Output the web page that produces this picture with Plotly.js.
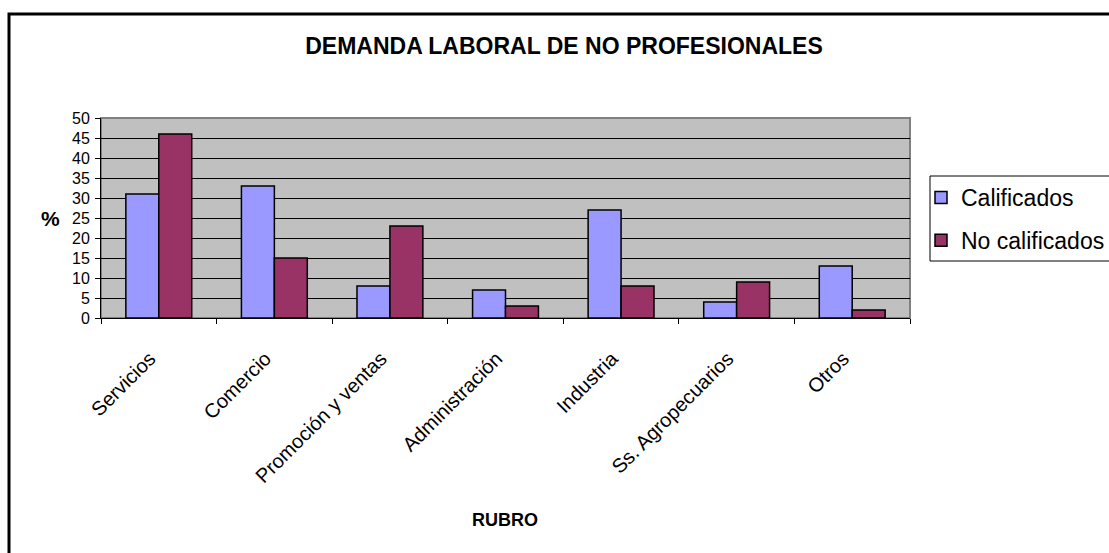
<!DOCTYPE html>
<html>
<head>
<meta charset="utf-8">
<script src="https://cdn.plot.ly/plotly-3.0.1.min.js"></script>
<style>html,body{margin:0;padding:0;background:#fff;}#chart{width:1109px;height:553px;}</style>
</head>
<body>
<div id="chart"></div>
<script>
const categories = ["Servicios", "Comercio", "Promoción y ventas", "Administración", "Industria", "Ss. Agropecuarios", "Otros"];
const calificados = [31, 33, 8, 7, 27, 4, 13];
const noCalificados = [46, 15, 23, 3, 8, 9, 2];
const seriesNames = ["Calificados", "No calificados"];
const yTicks = [0, 5, 10, 15, 20, 25, 30, 35, 40, 45, 50];

const W = 1109, H = 553;
const L = 101, R = 910, T = 118, B = 318;
const px = x => (x - L) / (R - L);
const py = y => (B - y) / (B - T);
const FONT = "Liberation Sans, Arial, sans-serif";

const traces = [
  {type: "bar", name: seriesNames[0], x: categories, y: calificados, legendgroup: "a",
   marker: {color: "#9999FF", line: {color: "#000", width: 1.5}}},
  {type: "bar", name: seriesNames[1], x: categories, y: noCalificados, legendgroup: "b",
   marker: {color: "#993366", line: {color: "#000", width: 1.5}}}
];

const layout = {
  width: W, height: H,
  margin: {l: L, r: W - R, t: T, b: H - B, pad: 0, autoexpand: false},
  paper_bgcolor: "#fff",
  plot_bgcolor: "#C0C0C0",
  barmode: "group",
  bargap: 0.43,
  bargroupgap: 0,
  font: {family: FONT, color: "#000"},
  title: {text: "<b>DEMANDA LABORAL DE NO PROFESIONALES</b>", font: {family: FONT, size: 23, color: "#000"},
          xref: "container", x: 564 / W, xanchor: "center", yref: "container", y: 1 - 46 / H, yanchor: "middle"},
  xaxis: {type: "category", tickangle: -45, tickfont: {family: FONT, size: 20, color: "#000"},
          showline: true, linecolor: "#000", linewidth: 1, ticks: "outside", ticklen: 5, tickcolor: "#000",
          tickson: "boundaries", showgrid: false, zeroline: false, ticklabelstandoff: 20, ticklabelshift: -9,
          automargin: false, fixedrange: true},
  yaxis: {range: [0, 50], tickvals: yTicks, ticks: "outside", ticklen: 5, tickcolor: "#000",
          tickfont: {family: FONT, size: 16, color: "#000"}, showline: true, linecolor: "#000", linewidth: 1,
          showgrid: true, gridcolor: "#000", gridwidth: 1, zeroline: false, ticklabelstandoff: 2,
          automargin: false, fixedrange: true},
  legend: {x: px(921), xanchor: "left", y: py(176), yanchor: "top", bgcolor: "rgba(0,0,0,0)",
           borderwidth: 0, font: {family: FONT, size: 23, color: "#000"},
           traceorder: "grouped", tracegroupgap: 10},
  shapes: [
    {type: "rect", xref: "paper", yref: "paper", x0: 0, x1: 1, y0: 0, y1: 1,
     line: {color: "#808080", width: 2}, layer: "between"},
    {type: "rect", xref: "paper", yref: "paper", x0: px(930), x1: px(1125), y0: py(261), y1: py(176),
     fillcolor: "#fff", line: {color: "#000", width: 1}, layer: "below"},
    {type: "rect", xref: "paper", yref: "paper", x0: px(9), x1: px(1118), y0: py(562), y1: py(14),
     line: {color: "#000", width: 3}}
  ],
  annotations: [
    {text: "<b>%</b>", xref: "paper", yref: "paper", x: px(50), y: py(218), xanchor: "center", yanchor: "middle",
     showarrow: false, font: {family: FONT, size: 21, color: "#000"}},
    {text: "<b>RUBRO</b>", xref: "paper", yref: "paper", x: px(505), y: py(520), xanchor: "center", yanchor: "middle",
     showarrow: false, font: {family: FONT, size: 18, color: "#000"}}
  ]
};

Plotly.newPlot("chart", traces, layout, {displayModeBar: false, staticPlot: true});
</script>
</body>
</html>
